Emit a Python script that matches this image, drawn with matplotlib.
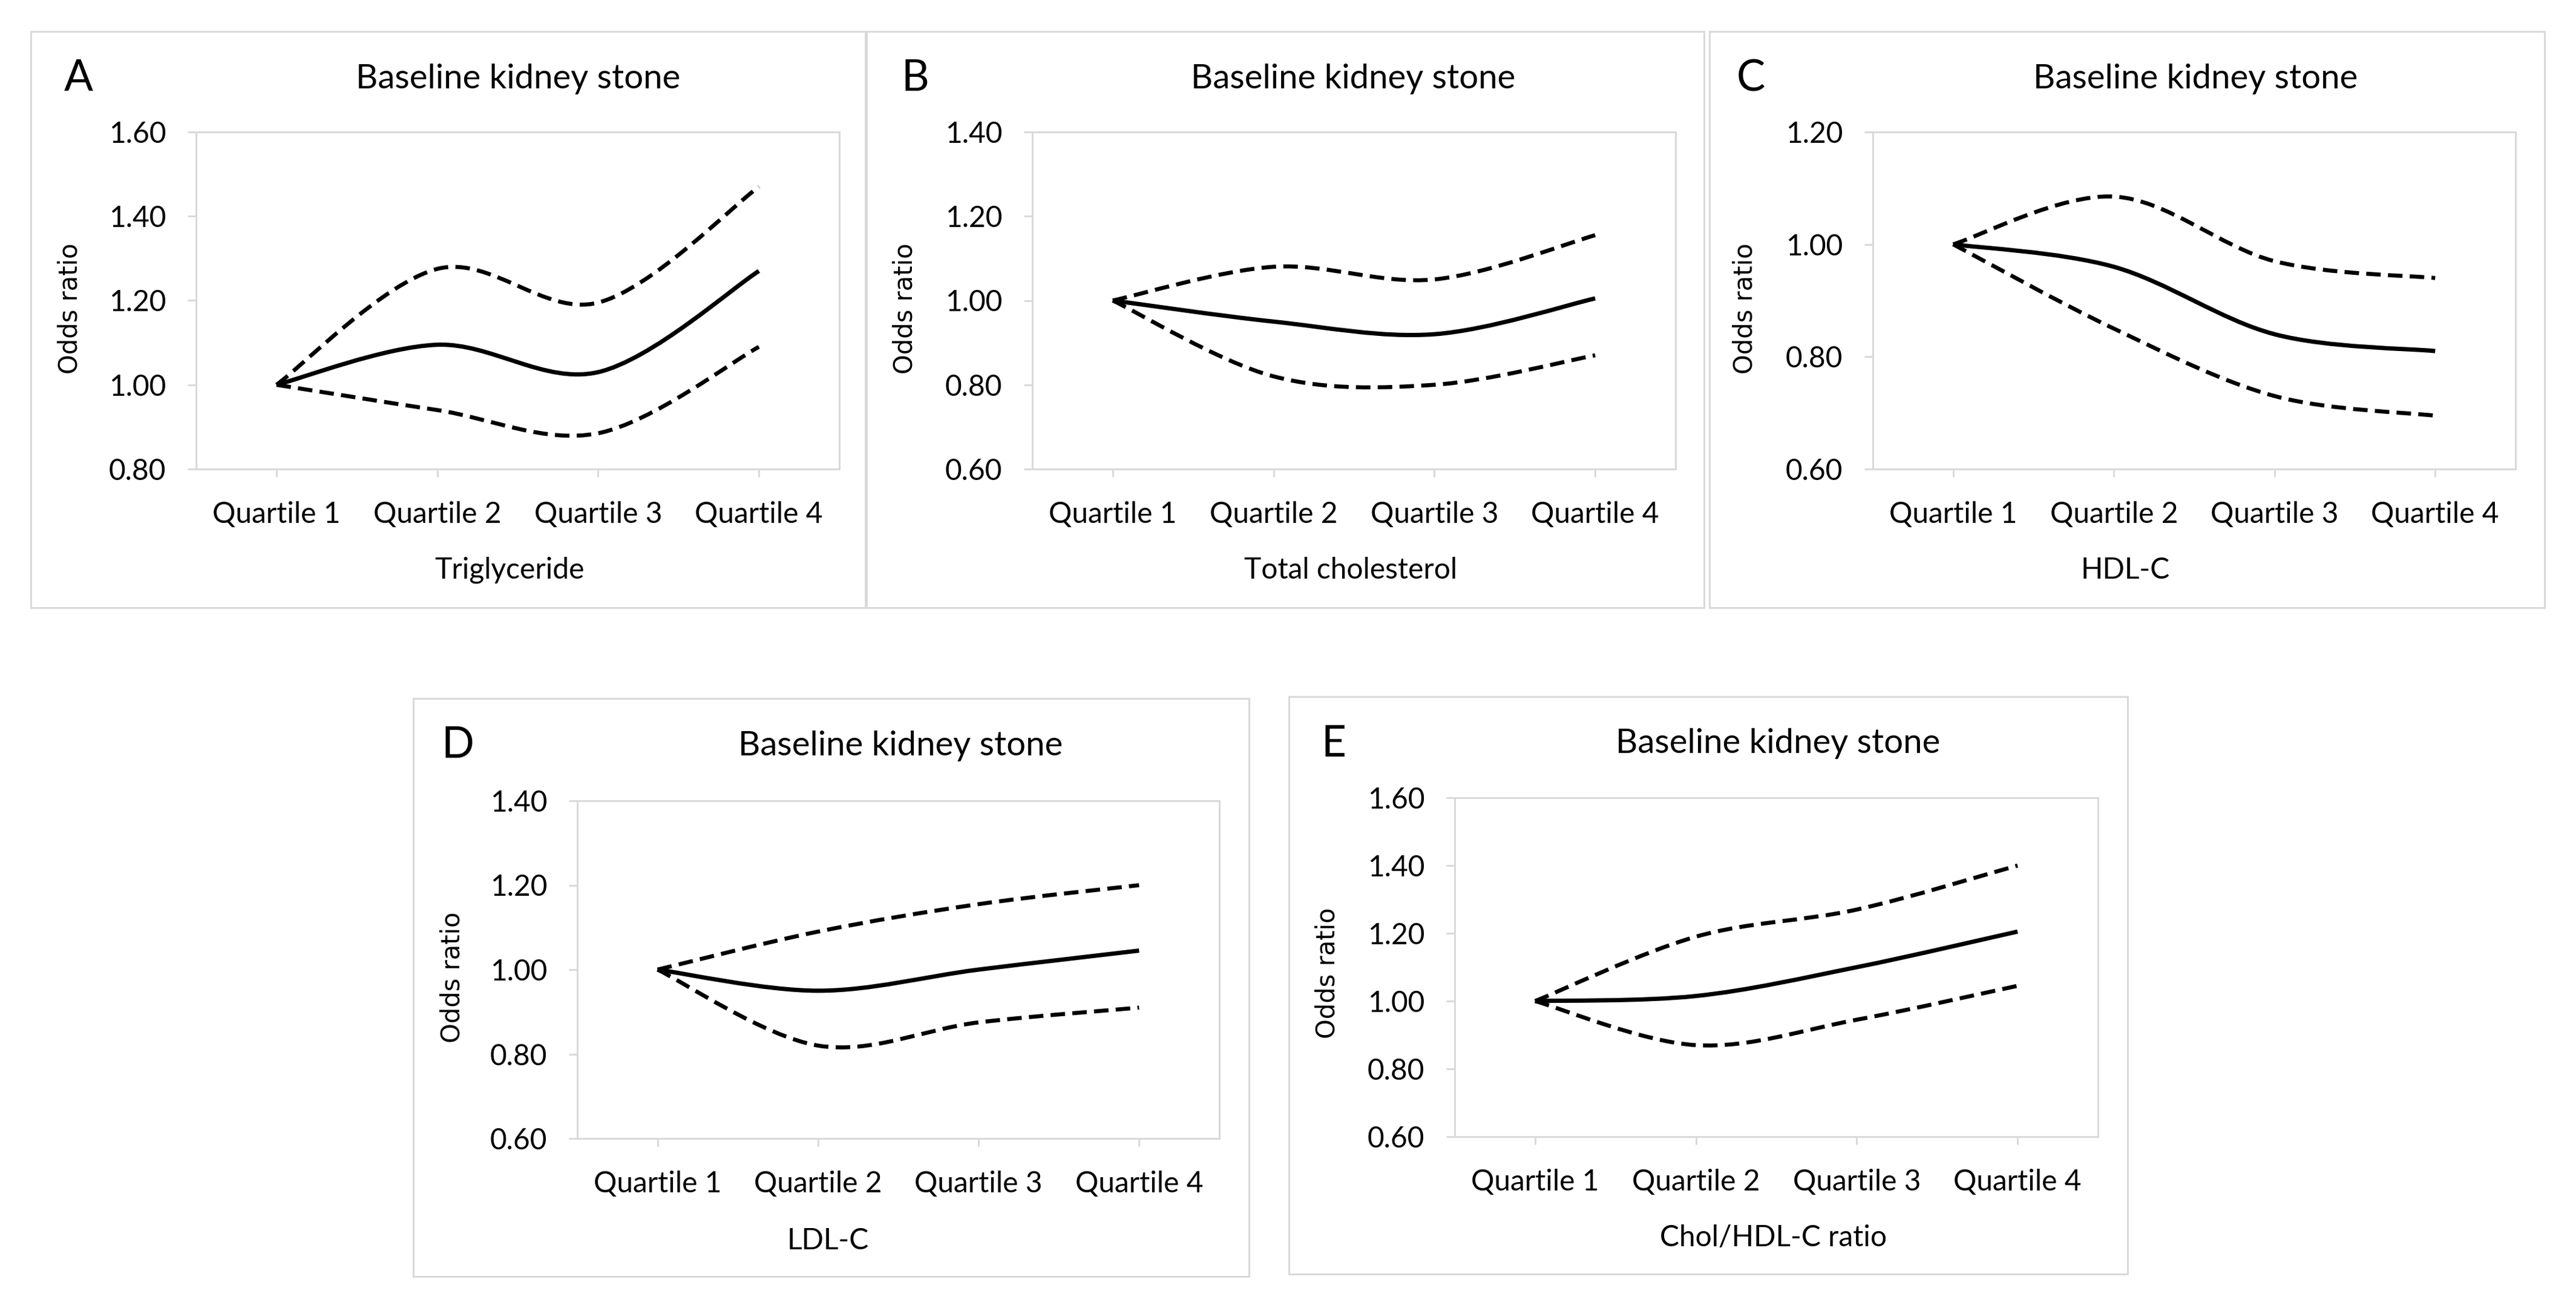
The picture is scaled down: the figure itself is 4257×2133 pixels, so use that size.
import matplotlib

matplotlib.use("Agg")
import matplotlib.pyplot as plt
from matplotlib.patches import PathPatch, Rectangle
from matplotlib.path import Path

W, H, DPI = 4257, 2133, 300

QUARTILES = ["Quartile 1", "Quartile 2", "Quartile 3", "Quartile 4"]
LETTERS = ["A", "B", "C", "D", "E"]
XLABELS = ["Triglyceride", "Total cholesterol", "HDL-C", "LDL-C", "Chol/HDL-C ratio"]
YLIMS = [(0.80, 1.60), (0.60, 1.40), (0.60, 1.20), (0.60, 1.40), (0.60, 1.60)]

# odds ratio, lower and upper 95% CI per quartile
OR_A = [1.00, 1.095, 1.03, 1.27]
LO_A = [1.00, 0.94, 0.885, 1.09]
HI_A = [1.00, 1.275, 1.195, 1.47]

OR_B = [1.00, 0.95, 0.92, 1.005]
LO_B = [1.00, 0.82, 0.80, 0.87]
HI_B = [1.00, 1.08, 1.05, 1.155]

OR_C = [1.00, 0.96, 0.84, 0.81]
LO_C = [1.00, 0.85, 0.73, 0.695]
HI_C = [1.00, 1.085, 0.97, 0.94]

OR_D = [1.00, 0.95, 1.00, 1.045]
LO_D = [1.00, 0.82, 0.875, 0.91]
HI_D = [1.00, 1.09, 1.155, 1.20]

OR_E = [1.00, 1.015, 1.10, 1.205]
LO_E = [1.00, 0.87, 0.945, 1.045]
HI_E = [1.00, 1.19, 1.27, 1.40]

SERIES = [(OR_A, LO_A, HI_A), (OR_B, LO_B, HI_B), (OR_C, LO_C, HI_C),
          (OR_D, LO_D, HI_D), (OR_E, LO_E, HI_E)]

# layout in pixels of the target image
BOXES = [(51, 52, 1432, 1004), (1430, 52, 2816, 1004), (2825, 52, 4205, 1004),
         (683, 1154, 2064, 2109), (2130, 1151, 3516, 2105)]
PLOTS = [(324, 1387, 218, 775), (1706, 2769, 218, 775), (3095, 4157, 218, 775),
         (954, 2015, 1323, 1881), (2404, 3467, 1318, 1878)]
TITLE_POS = [(856, 130), (2236, 130), (3628, 130), (1488, 1232), (2938, 1229)]
LETTER_POS = [(106, 130), (1489, 130), (2870, 130), (729, 1232), (2184, 1229)]
YLAB_POS = [(116, 510), (1495, 510), (2884, 510), (748, 1615), (2193, 1608)]
XLAB_POS = [(842, 942), (2232, 942), (3512, 942), (1368, 2050), (2931, 2045)]

GRID = "#d9d9d9"
FONT = ["Lato", "DejaVu Sans"]


def fx(x):
    return x / W


def fy(y):
    return 1 - y / H


def smooth(xs, ys):
    # Excel-like smoothed line: cubic bezier through the points
    pts = list(zip(xs, ys))
    n = len(pts)
    verts, codes = [pts[0]], [Path.MOVETO]
    for i in range(n - 1):
        p0, p1 = pts[max(i - 1, 0)], pts[i]
        p2, p3 = pts[i + 1], pts[min(i + 2, n - 1)]
        c1 = (p1[0] + (p2[0] - p0[0]) / 6, p1[1] + (p2[1] - p0[1]) / 6)
        c2 = (p2[0] - (p3[0] - p1[0]) / 6, p2[1] - (p3[1] - p1[1]) / 6)
        verts += [c1, c2, p2]
        codes += [Path.CURVE4] * 3
    return Path(verts, codes)


fig = plt.figure(figsize=(W / DPI, H / DPI), dpi=DPI)
fig.patch.set_facecolor("white")

for k in range(5):
    bx0, by0, bx1, by1 = BOXES[k]
    fig.patches.append(Rectangle((fx(bx0), fy(by1)), fx(bx1 - bx0), (by1 - by0) / H,
                                 transform=fig.transFigure, fill=False,
                                 edgecolor=GRID, lw=0.7))
    px0, px1, pt, pb = PLOTS[k]
    ax = fig.add_axes([fx(px0), fy(pb), fx(px1 - px0), (pb - pt) / H])
    xs = list(range(len(QUARTILES)))
    orv, lo, hi = SERIES[k]
    ax.add_patch(PathPatch(smooth(xs, orv), fill=False, edgecolor="black", lw=1.7,
                           capstyle="butt", joinstyle="round"))
    for band in (lo, hi):
        ax.add_patch(PathPatch(smooth(xs, band), fill=False, edgecolor="black", lw=1.6,
                               linestyle=(0, (3.6, 1.8)), capstyle="butt"))
    ax.set_xlim(-0.5, 3.5)
    y0, y1 = YLIMS[k]
    ax.set_ylim(y0, y1)
    ticks = [y0 + 0.2 * i for i in range(int(round((y1 - y0) / 0.2)) + 1)]
    ax.set_yticks(ticks)
    ax.set_yticklabels([f"{t:.2f}" for t in ticks], family=FONT, fontsize=11.5)
    ax.set_xticks(xs)
    ax.set_xticklabels(QUARTILES, family=FONT, fontsize=11.5)
    ax.tick_params(axis="y", length=3.4, width=0.7, color=GRID, pad=8.5)
    ax.tick_params(axis="x", length=3.2, width=0.7, color=GRID, pad=9.5)
    for s in ax.spines.values():
        s.set_color(GRID)
        s.set_linewidth(0.7)

    tx, ty = TITLE_POS[k]
    fig.text(fx(tx), fy(ty), "Baseline kidney stone", ha="center", va="center",
             family=FONT, fontsize=13.5)
    lx, ly = LETTER_POS[k]
    fig.text(fx(lx), fy(ly), LETTERS[k], ha="left", va="center", family=FONT, fontsize=17)
    yx, yy = YLAB_POS[k]
    fig.text(fx(yx), fy(yy), "Odds ratio", ha="center", va="center", rotation=90,
             family="DejaVu Sans", fontsize=10)
    xx, xy = XLAB_POS[k]
    fig.text(fx(xx), fy(xy), XLABELS[k], ha="center", va="center", family=FONT, fontsize=11.5)

fig.savefig("out.png", dpi=DPI)
